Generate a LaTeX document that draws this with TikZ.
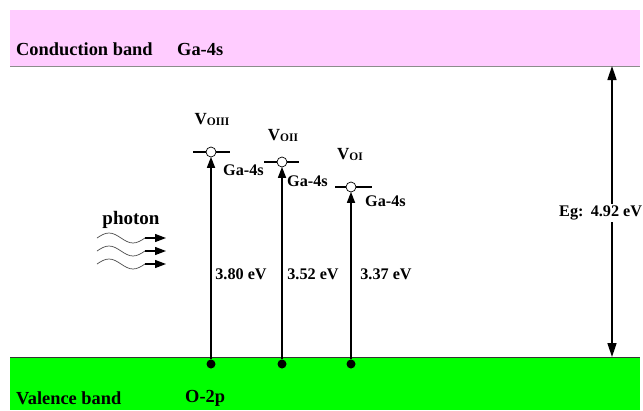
\documentclass[tikz,border=0pt]{standalone}
\usepackage{fontspec}
\setmainfont{Liberation Serif}
\usetikzlibrary{arrows.meta}
\definecolor{cbpink}{HTML}{FFCCFF}
\definecolor{vbgreen}{HTML}{00FF00}
\begin{document}
\begin{tikzpicture}[x=1pt,y=-1pt,
  big/.style={font=\fontsize{18.4}{21}\selectfont\bfseries, inner sep=0pt},
  small/.style={font=\fontsize{16.2}{19}\selectfont\bfseries, inner sep=0pt},
  level/.style={line width=1.4pt},
  hole/.style={circle, draw, fill=white, minimum size=10pt, inner sep=0pt, line width=0.7pt},
  elec/.style={circle, fill=black, minimum size=9pt, inner sep=0pt},
  trans/.style={line width=1.6pt, -{Triangle[length=11pt,width=8pt]}, shorten >=-0.5pt},
  gap/.style={line width=1.6pt, {Triangle[length=14pt,width=9pt]}-{Triangle[length=14pt,width=9pt]}},
  wave/.style={black!70, line width=0.7pt},
  ray/.style={line width=1.3pt, -{Triangle[length=11pt,width=8pt]}},
  ]
\useasboundingbox (0,0) rectangle (643,410);
\fill[white] (0,0) rectangle (643,410);
% bands
\fill[cbpink] (10,10) rectangle (640,66);
\draw[black!45, line width=0.8pt] (10,66) -- (640,66);
\fill[vbgreen] (10,357) rectangle (640,410);
\draw[black!80, line width=0.8pt] (10,357) -- (640,357);
\node[big, anchor=west] (cb) at (16,49) {Conduction band};
\node[big, anchor=west] (cbs) at (177,49) {Ga-4s};
\node[big, anchor=west] (vb) at (16,398) {Valence band};
\node[big, anchor=west] (vbs) at (185,398) {O-2p};
% defect levels
\draw[level] (193,152) -- (230,152);
\draw[level] (264,162) -- (299,162);
\draw[level] (335,187) -- (372,187);
\node[hole] (h3) at (211,152) {};
\node[hole] (h2) at (282,162) {};
\node[hole] (h1) at (351,187) {};
\node[elec] (e3) at (211,364) {};
\node[elec] (e2) at (282,364) {};
\node[elec] (e1) at (351,364) {};
\draw[trans] (e3) -- (h3);
\draw[trans] (e2) -- (h2);
\draw[trans] (e1) -- (h1);
\node[big, font=\fontsize{17}{20}\selectfont\bfseries] (l3) at (212,119) {V\raisebox{-1pt}{\fontsize{11.5}{12}\selectfont OIII}};
\node[big, font=\fontsize{17}{20}\selectfont\bfseries] (l2) at (283,135) {V\raisebox{-1pt}{\fontsize{11.5}{12}\selectfont OII}};
\node[big, font=\fontsize{17}{20}\selectfont\bfseries] (l1) at (350,154) {V\raisebox{-1pt}{\fontsize{11.5}{12}\selectfont OI}};
\node[small, anchor=west] (g3) at (223,170) {Ga-4s};
\node[small, anchor=west] (g2) at (287,181) {Ga-4s};
\node[small, anchor=west] (g1) at (365,201) {Ga-4s};
\node[small] (v3) at (241,274) {3.80 eV};
\node[small] (v2) at (313,274) {3.52 eV};
\node[small] (v1) at (386,274) {3.37 eV};
% photon
\node[big, font=\fontsize{19}{22}\selectfont\bfseries] (ph) at (131,220) {photon};
\foreach \yy/\nm in {238/a,251/b,264/c}{
  \coordinate (ws\nm) at (97,\yy);
  \coordinate (we\nm) at (145,\yy);
  \coordinate (wt\nm) at (166,\yy);
  \draw[wave] (ws\nm) sin (109,\yy-5) cos (121,\yy) sin (133,\yy+5) cos (we\nm);
  \draw[ray] (we\nm) -- (wt\nm);
}
% band gap
\coordinate (gt) at (612,66);
\coordinate (gb) at (612,357);
\draw[gap] (gt) -- (gb);
\node[small, fill=white, inner sep=2pt, anchor=west] (eg) at (557,213) {Eg:\hspace{0.45em}4.92 eV};
\end{tikzpicture}
\end{document}
